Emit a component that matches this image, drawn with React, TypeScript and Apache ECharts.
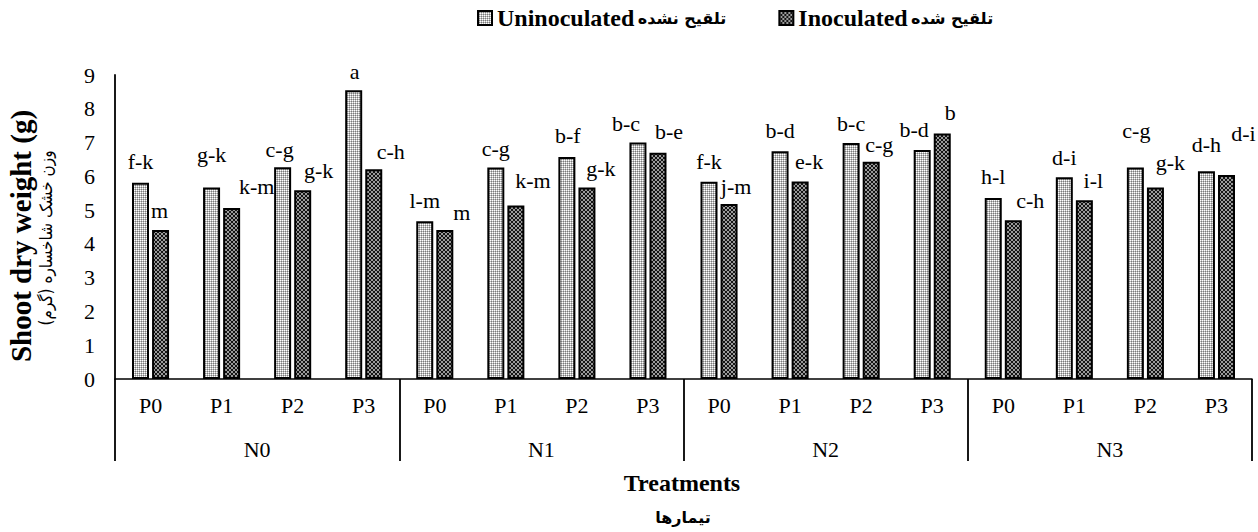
import React, { useEffect, useRef } from "react";
import * as echarts from "echarts";

const nGroups = ["N0", "N1", "N2", "N3"];
const pLevels = ["P0", "P1", "P2", "P3"];
const categories = nGroups.flatMap((n) => pLevels.map((p) => `${n}-${p}`));

const uninoculated = [5.81, 5.67, 6.27, 8.55, 4.67, 6.26, 6.57, 7.0, 5.84, 6.74, 6.99, 6.78, 5.36, 5.97, 6.26, 6.15];
const inoculated = [4.41, 5.06, 5.59, 6.21, 4.41, 5.14, 5.67, 6.7, 5.18, 5.85, 6.43, 7.27, 4.7, 5.29, 5.67, 6.04];

const uninocLetters = ["f-k", "g-k", "c-g", "a", "l-m", "c-g", "b-f", "b-c", "f-k", "b-d", "b-c", "b-d", "h-l", "d-i", "c-g", "d-h"];
const inocLetters = ["m", "k-m", "g-k", "c-h", "m", "k-m", "g-k", "b-e", "j-m", "e-k", "c-g", "b", "c-h", "i-l", "g-k", "d-i"];

const yTicks = [0, 1, 2, 3, 4, 5, 6, 7, 8, 9];

// layout nudges for the letter labels (as manually placed in the original)
const uninocNudge = [[0, -1], [0, -13], [-3, 2], [1, 1], [0, -1], [0, 1], [1, -2], [-12, 1], [0, 0], [0, -1], [0, 1], [-8, 0], [0, -1], [0, 0], [1, -17], [0, -7]];
const inocNudge = [[-1, 0], [25, -2], [16, 0], [17, 2], [17, 2], [17, -5], [14, 1], [11, -1], [7, 2], [9, 0], [8, 3], [8, -1], [17, 0], [9, 0], [15, -5], [17, -21]];

const SERIF = "'Liberation Serif', 'Times New Roman', serif";
const FA = "'DejaVu Sans', sans-serif";
const FA_COND = "'DejaVu Sans Condensed', 'DejaVu Sans', sans-serif";

function makeUninocPattern() {
  const c = document.createElement("canvas");
  c.width = 2;
  c.height = 2;
  const ctx = c.getContext("2d")!;
  const px = [["#ffffff", "#bdbdbd"], ["#bdbdbd", "#7a7a7a"]];
  for (let y = 0; y < 2; y++) for (let x = 0; x < 2; x++) { ctx.fillStyle = px[y][x]; ctx.fillRect(x, y, 1, 1); }
  return c;
}
function makeInocPattern() {
  const c = document.createElement("canvas");
  c.width = 4;
  c.height = 4;
  const ctx = c.getContext("2d")!;
  for (let y = 0; y < 4; y++)
    for (let x = 0; x < 4; x++) {
      ctx.fillStyle = x === y || x + y === 3 ? "#9a9a9a" : "#141414";
      ctx.fillRect(x, y, 1, 1);
    }
  return c;
}

export default function App() {
  const ref = useRef<HTMLDivElement>(null);
  useEffect(() => {
    if (!ref.current) return;
    document.body.style.margin = "0";
    const chart = echarts.init(ref.current, undefined, { renderer: "svg" });
    const uPat = { image: makeUninocPattern(), repeat: "repeat" };
    const iPat = { image: makeInocPattern(), repeat: "repeat" };
    const faNames: Record<string, string> = { Uninoculated: "تلقیح نشده", Inoculated: "تلقیح شده" };

    const labelBase = {
      show: true,
      position: "top",
      distance: 9,
      fontFamily: SERIF,
      fontSize: 22,
      color: "#000",
    };

    chart.setOption({
      animation: false,
      backgroundColor: "#fff",
      grid: { left: 115, right: 6, top: 75, bottom: 153, containLabel: false },
      legend: {
        left: 472,
        top: 1,
        icon: "rect",
        itemWidth: 14,
        itemHeight: 14,
        itemGap: 52,
        data: ["Uninoculated", "Inoculated"],
        formatter: (name: string) => `{en|${name}} {fa|${faNames[name]}}`,
        textStyle: {
          color: "#000",
          rich: {
            en: { fontFamily: SERIF, fontWeight: "bold", fontSize: 24, color: "#000" },
            fa: { fontFamily: FA, fontWeight: "bold", fontSize: 16, color: "#000" },
          },
        },
      },
      xAxis: [
        {
          type: "category",
          data: categories,
          axisLine: { show: true, lineStyle: { color: "#000", width: 1.5 } },
          axisTick: { show: false },
          axisLabel: {
            interval: 0,
            margin: 15,
            fontFamily: SERIF,
            fontSize: 22,
            color: "#000",
            formatter: (v: string) => v.split("-")[1],
          },
        },
        {
          type: "category",
          data: nGroups,
          position: "bottom",
          axisLine: { show: false },
          axisTick: { show: true, length: 82, interval: 0, lineStyle: { color: "#000", width: 1.8 } },
          axisLabel: { interval: 0, margin: 59, fontFamily: SERIF, fontSize: 22, color: "#000" },
        },
      ],
      yAxis: {
        type: "value",
        min: yTicks[0],
        max: yTicks[yTicks.length - 1],
        interval: 1,
        splitLine: { show: false },
        axisLine: { show: true, lineStyle: { color: "#000", width: 1.8 } },
        axisTick: { show: false },
        axisLabel: { margin: 20, fontFamily: SERIF, fontSize: 22, color: "#000" },
      },
      series: [
        {
          name: "Uninoculated",
          type: "bar",
          xAxisIndex: 0,
          barWidth: 17,
          barGap: "18%",
          itemStyle: { color: uPat, borderColor: "#000", borderWidth: 2 },
          label: { ...labelBase, formatter: (p: any) => uninocLetters[p.dataIndex] },
          data: uninoculated.map((v, i) => ({ value: v, label: { offset: uninocNudge[i] } })),
        },
        {
          name: "Inoculated",
          type: "bar",
          xAxisIndex: 0,
          barWidth: 17,
          barGap: "18%",
          itemStyle: { color: iPat, borderColor: "#000", borderWidth: 2 },
          label: { ...labelBase, formatter: (p: any) => inocLetters[p.dataIndex] },
          data: inoculated.map((v, i) => ({ value: v, label: { offset: inocNudge[i] } })),
        },
      ],
      graphic: [
        {
          type: "text",
          x: 21,
          y: 236,
          rotation: Math.PI / 2,
          style: { text: "Shoot dry weight (g)", fontFamily: SERIF, fontWeight: "bold", fontSize: 29, fill: "#000", align: "center", verticalAlign: "middle" },
        },
        {
          type: "text",
          x: 46,
          y: 238,
          rotation: Math.PI / 2,
          style: { text: "وزن خشک شاخساره (گرم)", fontFamily: FA_COND, fontSize: 17, fill: "#000", align: "center", verticalAlign: "middle" },
        },
        {
          type: "text",
          x: 682,
          y: 483,
          style: { text: "Treatments", fontFamily: SERIF, fontWeight: "bold", fontSize: 24, fill: "#000", align: "center", verticalAlign: "middle" },
        },
        {
          type: "text",
          x: 683,
          y: 517,
          style: { text: "تیمارها", fontFamily: FA, fontWeight: "bold", fontSize: 16, fill: "#000", align: "center", verticalAlign: "middle" },
        },
      ],
    });
    return () => chart.dispose();
  }, []);
  return <div ref={ref} style={{ width: 1258, height: 532 }} />;
}
